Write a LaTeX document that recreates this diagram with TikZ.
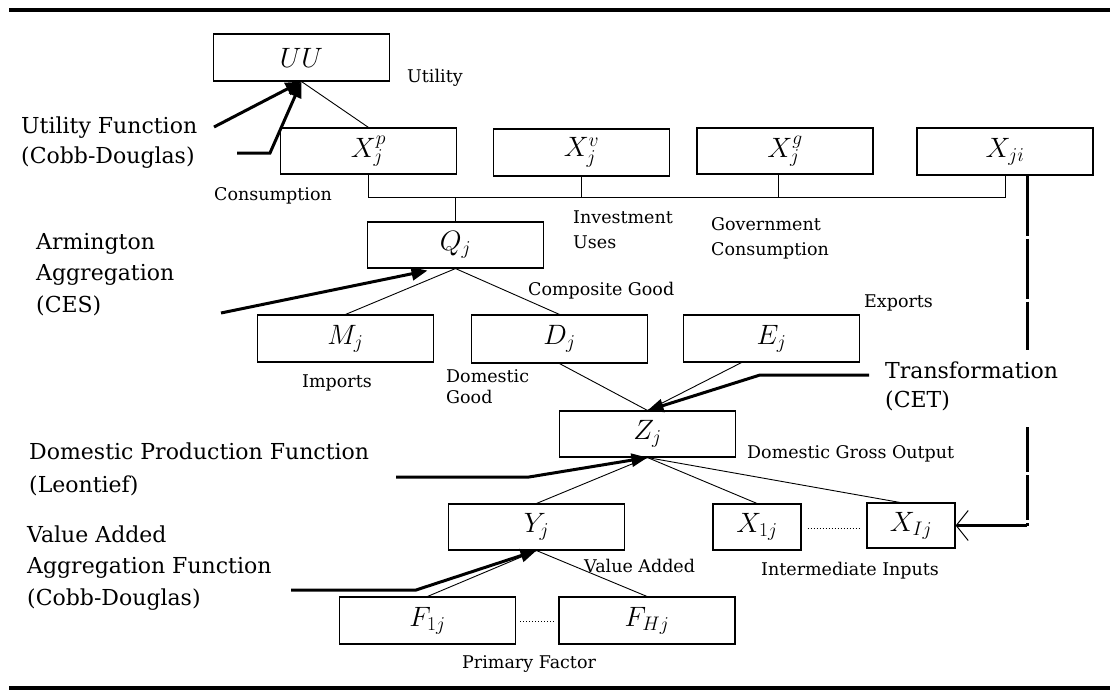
\RequirePackage{fix-cm}
\documentclass[tikz,border=0pt]{standalone}
\usepackage{fontspec}
\setmainfont{DejaVu Serif}
\usetikzlibrary{arrows.meta,calc}
\begin{document}
\begin{tikzpicture}[x=1pt,y=-1pt,
  box/.style={draw,line width=1.1pt,inner sep=0pt,minimum width=176pt,minimum height=46pt,font=\fontsize{28}{32}\selectfont},
  sbox/.style={box,minimum width=88pt},
  big/.style={anchor=base west,inner sep=0pt,font=\fontsize{22}{26}\selectfont},
  small/.style={anchor=base west,inner sep=0pt,font=\fontsize{17.5}{21}\selectfont},
  thinline/.style={line width=0.9pt},
  thk/.style={line width=3pt,-{Triangle[length=16pt,width=13pt]}},
  rule/.style={line width=3.5pt},
  dotline/.style={line width=1pt,dotted}]
\useasboundingbox (0,0) rectangle (1110,691);
% rules
\draw[rule] (9,10) -- (1110,10);
\draw[rule] (9,688) -- (1110,688);
% boxes
\node[box,minimum height=47pt] (UU) at (301.5,57.5) {$UU$};
\node[box] (Xp) at (368.5,151) {$X^{p}_{j}$};
\node[box,minimum height=47pt] (Xv) at (581.5,152.5) {$X^{v}_{j}$};
\node[box] (Xg) at (785,151) {$X^{g}_{j}$};
\node[box,minimum height=47pt] (Xji) at (1005,151.5) {$X_{ji}$};
\node[box] (Q) at (455.5,245) {$Q_j$};
\node[box,minimum height=47pt] (M) at (345.5,338.5) {$M_j$};
\node[box,minimum height=48pt] (D) at (559.5,339) {$D_j$};
\node[box,minimum height=47pt] (E) at (771.5,338.5) {$E_j$};
\node[box] (Z) at (647.5,434) {$Z_j$};
\node[box] (Y) at (536.5,527) {$Y_j$};
\node[sbox] (X1j) at (757,527) {$X_{1j}$};
\node[sbox,minimum height=45pt] (XIj) at (911,525.5) {$X_{Ij}$};
\node[box,minimum height=47pt] (F1j) at (427.5,620.5) {$F_{1j}$};
\node[box,minimum height=47pt] (FHj) at (647,620.5) {$F_{Hj}$};
% big labels
\node[big] (lUF1) at (21,133) {Utility Function};
\node[big] (lUF2) at (21,163) {(Cobb-Douglas)};
\node[big] (lAr1) at (36,249) {Armington};
\node[big] (lAr2) at (36,280) {Aggregation};
\node[big] (lAr3) at (36,312) {(CES)};
\node[big] (lDP1) at (29,459) {Domestic Production Function};
\node[big] (lDP2) at (29,492) {(Leontief)};
\node[big] (lVA1) at (27,542) {Value Added};
\node[big] (lVA2) at (27,573) {Aggregation Function};
\node[big] (lVA3) at (27,605) {(Cobb-Douglas)};
\node[big] (lTr1) at (885,378) {Transformation};
\node[big] (lTr2) at (885,407) {(CET)};
% small labels
\node[small] (sUt) at (407,82) {Utility};
\node[small] (sCo) at (214,200) {Consumption};
\node[small] (sIn1) at (573,223) {Investment};
\node[small] (sIn2) at (573,248) {Uses};
\node[small] (sGo1) at (711,230) {Government};
\node[small] (sGo2) at (711,255) {Consumption};
\node[small] (sCG) at (528,295) {Composite Good};
\node[small] (sEx) at (864,307) {Exports};
\node[small] (sIm) at (302,387) {Imports};
\node[small] (sDG1) at (446,382) {Domestic};
\node[small] (sDG2) at (446,403) {Good};
\node[small] (sDGO) at (747,458) {Domestic Gross Output};
\node[small] (sVA) at (584,572) {Value Added};
\node[small] (sII) at (761,575) {Intermediate Inputs};
\node[small] (sPF) at (462,668) {Primary Factor};
% helper coordinates
\coordinate (busy) at (0,197);
\coordinate (uf1) at (214,127);
\coordinate (uf2) at (237,153);
\coordinate (uf2b) at (270,153);
\coordinate (ar) at (221,313);
\coordinate (qtip) at ($(Q.south)+(-28,2)$);
\coordinate (tr1) at (869,375);
\coordinate (tr2) at (760,375);
\coordinate (le1) at (396,477);
\coordinate (le2) at (529,477);
\coordinate (va1) at (291,590);
\coordinate (va2) at (416,590);
\coordinate (dtop) at ($(Xji.south)+(22,0)$);
\coordinate (gapA) at (dtop |- {0,350});
\coordinate (gapB) at (dtop |- {0,427});
\coordinate (dcorner) at (dtop |- XIj.east);
% thin connectors
\draw[thinline] (UU.south) -- (Xp.north);
\draw[thinline] (Xp.south) -- (Xp.south |- busy) -- (Xji.south |- busy) -- (Xji.south);
\draw[thinline] (Xv.south) -- (Xv.south |- busy);
\draw[thinline] ($(Xg.south)+(-7,0)$) -- ($(Xg.south |- busy)+(-7,0)$);
\draw[thinline] (Q.north) -- (Q.north |- busy);
\draw[thinline] (Q.south) -- (M.north);
\draw[thinline] (Q.south) -- (D.north);
\draw[thinline] (D.south) -- (Z.north);
\draw[thinline] ($(E.south)+(-30,0)$) -- (Z.north);
\draw[thinline] (Z.south) -- (Y.north);
\draw[thinline] (Z.south) -- (X1j.north);
\draw[thinline] (Z.south) -- ($(XIj.north)+(-11,0)$);
\draw[thinline] (Y.south) -- (F1j.north);
\draw[thinline] (Y.south) -- (FHj.north);
\draw[dotline] ($(X1j.east)+(6,1)$) -- ($(XIj.west)+(-6,2.5)$);
\draw[dotline] ($(F1j.east)+(4,1)$) -- ($(FHj.west)+(-4,1)$);
% thick arrows
\draw[thk] (uf1) -- (UU.south);
\draw[thk] (uf2) -- (uf2b) -- (UU.south);
\draw[thk] (ar) -- (qtip);
\draw[thk] (tr1) -- (tr2) -- (Z.north);
\draw[thk] (le1) -- (le2) -- (Z.south);
\draw[thk] (va1) -- (va2) -- (Y.south);
% dashed feedback line
\draw[line width=3pt,dash pattern=on 60pt off 3pt] (dtop) -- (gapA);
\draw[line width=3pt,dash pattern=on 45pt off 3pt] (gapB) -- (dcorner);
\draw[line width=3pt,-{Straight Barb[length=12pt,width=30pt,line width=1pt]}] (dcorner) -- (XIj.east);
\end{tikzpicture}
\end{document}
